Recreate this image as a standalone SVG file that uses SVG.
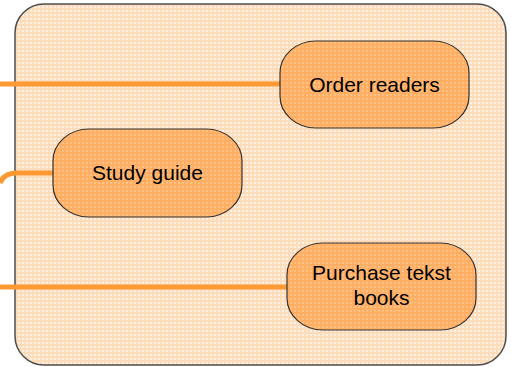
<svg xmlns="http://www.w3.org/2000/svg" width="511" height="367" viewBox="0 0 511 367">
<defs>
<pattern id="bgGrid" width="4" height="4" patternUnits="userSpaceOnUse">
<rect width="4" height="4" fill="#FFF2E4"/>
<rect width="4" height="2" fill="#FDDCBC"/>
<rect width="2" height="4" fill="#FDDCBC"/>
</pattern>
<pattern id="nodeGrid" width="4" height="4" patternUnits="userSpaceOnUse">
<rect width="4" height="4" fill="#FFC283"/>
<rect width="4" height="2" fill="#FFAE63"/>
<rect width="2" height="4" fill="#FFAE63"/>
</pattern>
</defs>
<style>
.container{fill:url(#bgGrid);stroke:#4d4d4d;stroke-width:1.5}
.node rect{fill:url(#nodeGrid);stroke:#333333;stroke-width:1.2}
.node text{font-family:"Liberation Sans",Arial,sans-serif;font-size:21px;fill:#000000;text-anchor:middle}
.conn{fill:none;stroke:#FF9933;stroke-width:5}
</style>
<rect id="container" class="container" x="15" y="4" width="491" height="361" rx="29" ry="29"/>
<g id="connectors">
<path class="conn" d="M0,84 L282,84"/>
<path class="conn" d="M0,183 Q4,173 17,173 L55,173"/>
<path class="conn" d="M0,287 L289,287"/>
</g>
<g id="node-order-readers" class="node">
<rect x="280" y="41" width="189" height="87" rx="36" ry="32"/>
<text x="374.5" y="92">Order readers</text>
</g>
<g id="node-study-guide" class="node">
<rect x="53" y="129" width="189" height="88" rx="36" ry="32"/>
<text x="147.5" y="180">Study guide</text>
</g>
<g id="node-purchase" class="node">
<rect x="287" y="243" width="189" height="87" rx="36" ry="32"/>
<text x="381.5" y="280">Purchase tekst</text>
<text x="381.5" y="305">books</text>
</g>
</svg>
